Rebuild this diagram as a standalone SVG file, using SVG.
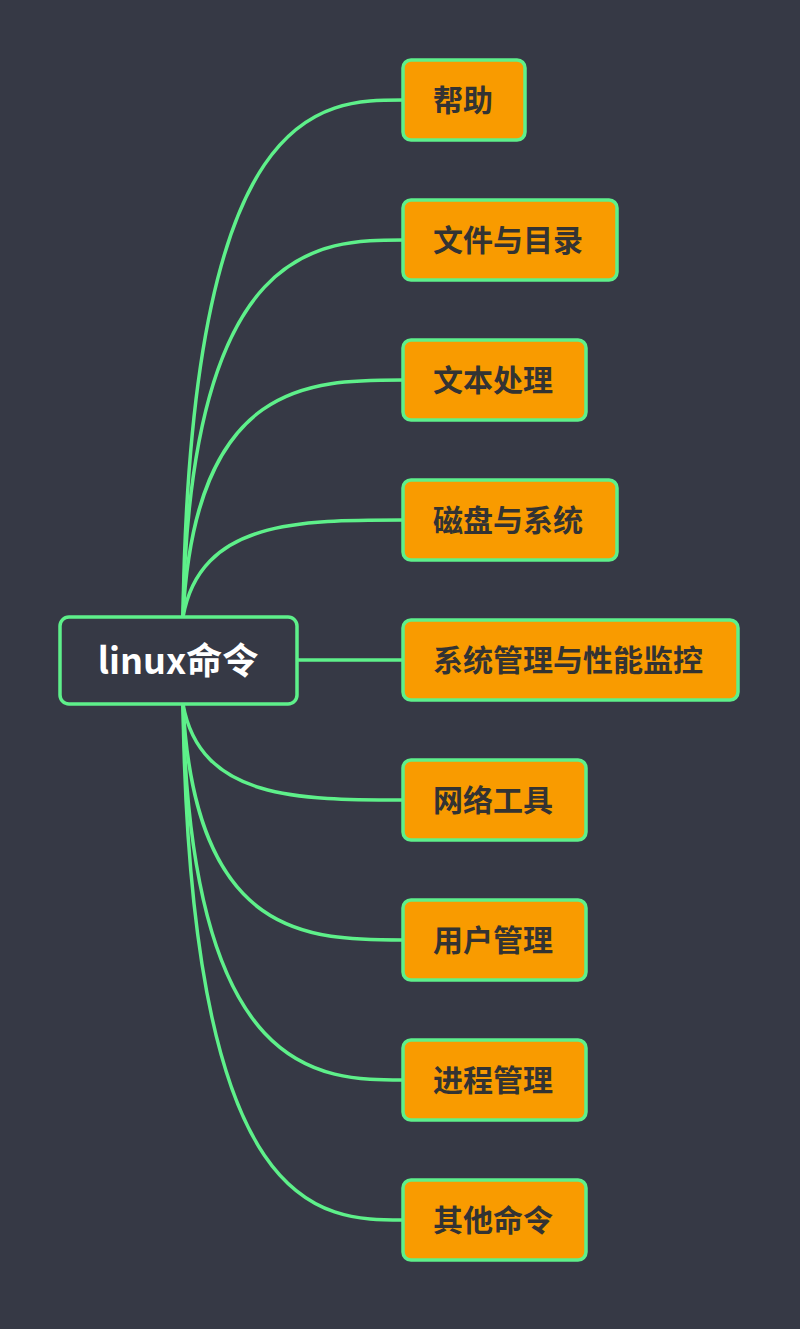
<svg xmlns="http://www.w3.org/2000/svg" width="800" height="1329" viewBox="0 0 800 1329">
<style>
.c{fill:none;stroke:#5ef08a;stroke-width:3.5}
.n rect{fill:#f99b00;stroke:#5ef08a;stroke-width:3.5}
.n text{font-family:"Noto Sans CJK SC","Liberation Sans",sans-serif;font-weight:bold;font-size:30px;fill:#333}
</style>
<rect width="800" height="1329" fill="#363945"/>
<g id="connectors">
<path class="c" d="M183,617 C190,100 320,100 403,100"/>
<path class="c" d="M183,617 C190,240 320,240 403,240"/>
<path class="c" d="M183,617 C195,380 310,380 403,380"/>
<path class="c" d="M183,617 C200,520 300,520 403,520"/>
<path class="c" d="M297,660 L403,660"/>
<path class="c" d="M183,704 C200,800 300,800 403,800"/>
<path class="c" d="M183,704 C195,940 310,940 403,940"/>
<path class="c" d="M183,704 C190,1080 320,1080 403,1080"/>
<path class="c" d="M183,704 C190,1220 320,1220 403,1220"/>
</g>
<g id="root"><rect x="60" y="617" width="237" height="87" rx="9" fill="#363945" stroke="#5ef08a" stroke-width="3.5"/>
<text x="178" y="674" text-anchor="middle" font-family="'Noto Sans CJK SC','Liberation Sans',sans-serif" font-weight="bold" font-size="36" fill="#fff">linux命令</text></g>
<g id="n1" class="n"><rect x="403" y="60" width="122" height="80" rx="8"/><text x="433" y="111">帮助</text></g>
<g id="n2" class="n"><rect x="403" y="200" width="214" height="80" rx="8"/><text x="433" y="251">文件与目录</text></g>
<g id="n3" class="n"><rect x="403" y="340" width="183" height="80" rx="8"/><text x="433" y="391">文本处理</text></g>
<g id="n4" class="n"><rect x="403" y="480" width="214" height="80" rx="8"/><text x="433" y="531">磁盘与系统</text></g>
<g id="n5" class="n"><rect x="403" y="620" width="335" height="80" rx="8"/><text x="433" y="671">系统管理与性能监控</text></g>
<g id="n6" class="n"><rect x="403" y="760" width="183" height="80" rx="8"/><text x="433" y="811">网络工具</text></g>
<g id="n7" class="n"><rect x="403" y="900" width="183" height="80" rx="8"/><text x="433" y="951">用户管理</text></g>
<g id="n8" class="n"><rect x="403" y="1040" width="183" height="80" rx="8"/><text x="433" y="1091">进程管理</text></g>
<g id="n9" class="n"><rect x="403" y="1180" width="183" height="80" rx="8"/><text x="433" y="1231">其他命令</text></g>
</svg>
